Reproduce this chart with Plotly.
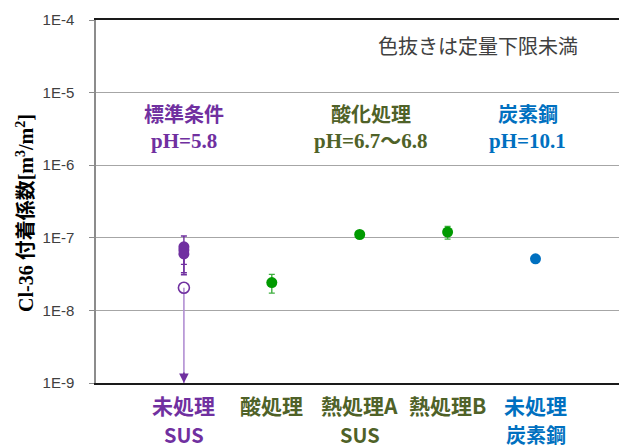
import math
import plotly.graph_objects as go

# Sample categories (x positions 1..5) and label lines
categories = ["未処理 SUS", "酸処理", "熱処理A SUS", "熱処理B", "未処理 炭素鋼"]
label_line1 = ["未処理", "酸処理", "熱処理A", "熱処理B", "未処理"]
label_line2 = ["SUS", "", "SUS", "", "炭素鋼"]

PURPLE = "#7030A0"
GREEN_TXT = "#4F6228"
GREEN = "#009A00"
BLUE = "#0070C0"
label_colors = [PURPLE, GREEN_TXT, GREEN_TXT, GREEN_TXT, BLUE]

# Untreated SUS: quantified results (m3/m2) with error bars
sus_values = [7.5e-8, 6.8e-8, 6.0e-8]
sus_err_plus = [3.1e-8, 1.0e-8, 1.2e-8]
sus_err_minus = [3.2e-8, 3.5e-8, 2.9e-8]

# Untreated SUS: result below the quantification limit (open marker)
sus_blq_value = 2.05e-8
axis_min = 1e-9

# Acid treatment, heat treatment A/B
acid_value = [2.42e-8]
acid_err_plus = [0.71e-8]
acid_err_minus = [0.69e-8]
heatA_value = [1.11e-7]
heatB_value = [1.20e-7]
heatB_err_plus = [0.23e-7]
heatB_err_minus = [0.24e-7]

# Untreated carbon steel
steel_value = [5.14e-8]

# Condition groups shown inside the plot
group_names = ["標準条件", "酸化処理", "炭素鋼"]
group_ph = ["pH=5.8", "pH=6.7～6.8", "pH=10.1"]
group_x = [1.0, 3.125, 4.91]
group_colors = [PURPLE, GREEN_TXT, BLUE]

y_tickvals = [1e-9, 1e-8, 1e-7, 1e-6, 1e-5, 1e-4]
y_ticktext = ["1E-9", "1E-8", "1E-7", "1E-6", "1E-5", "1E-4"]

# Plot-area geometry in pixels (used to place paper-referenced text)
L, T, W, H = 96, 20, 523, 363


def px_x(px):
    return (px - L) / W


def px_y(py):
    return (T + H - py) / H


fig = go.Figure()

# Below-limit SUS point: line down to the axis floor
fig.add_trace(go.Scatter(
    x=[1], y=[sus_blq_value], mode="markers",
    marker=dict(symbol="circle-open", size=11, color=PURPLE, line=dict(width=1.6, color=PURPLE)),
    error_y=dict(type="data", symmetric=False, array=[0],
                 arrayminus=[sus_blq_value - axis_min],
                 color="#B28FD3", thickness=1.6, width=0),
    showlegend=False, cliponaxis=False,
))

fig.add_trace(go.Scatter(
    x=[1] * len(sus_values), y=sus_values, mode="markers",
    marker=dict(size=11, color=PURPLE),
    error_y=dict(type="data", symmetric=False, array=sus_err_plus, arrayminus=sus_err_minus,
                 color=PURPLE, thickness=1.4, width=3),
    showlegend=False,
))

fig.add_trace(go.Scatter(
    x=[2], y=acid_value, mode="markers",
    marker=dict(size=11, color=GREEN),
    error_y=dict(type="data", symmetric=False, array=acid_err_plus, arrayminus=acid_err_minus,
                 color="#3FAF3F", thickness=1.4, width=3),
    showlegend=False,
))

fig.add_trace(go.Scatter(
    x=[3], y=heatA_value, mode="markers",
    marker=dict(size=11, color=GREEN), showlegend=False,
))

fig.add_trace(go.Scatter(
    x=[4], y=heatB_value, mode="markers",
    marker=dict(size=11, color=GREEN),
    error_y=dict(type="data", symmetric=False, array=heatB_err_plus, arrayminus=heatB_err_minus,
                 color="#3FAF3F", thickness=1.4, width=3),
    showlegend=False,
))

fig.add_trace(go.Scatter(
    x=[5], y=steel_value, mode="markers",
    marker=dict(size=11, color=BLUE), showlegend=False,
))

annotations = []

# Arrowhead marking the open-ended lower bound
annotations.append(dict(
    x=1, y=math.log10(axis_min), xref="x", yref="y",
    ax=0, ay=-12, showarrow=True, arrowhead=2, arrowsize=1.2,
    arrowwidth=1.6, arrowcolor=PURPLE, text="",
))

# Category labels below the axis
cat_font = "Noto Sans CJK JP"
for i, (l1, l2, c) in enumerate(zip(label_line1, label_line2, label_colors)):
    annotations.append(dict(
        x=i + 1, y=px_y(405), xref="x", yref="paper", yanchor="middle",
        text=f"<b>{l1}</b>", showarrow=False,
        font=dict(family=cat_font, size=21, color=c),
    ))
    if l2:
        annotations.append(dict(
            x=i + 1, y=px_y(434), xref="x", yref="paper", yanchor="middle",
            text=f"<b>{l2}</b>", showarrow=False,
            font=dict(family=cat_font, size=20, color=c),
        ))

# Condition group headers
for name, ph, gx, c in zip(group_names, group_ph, group_x, group_colors):
    annotations.append(dict(
        x=gx, y=px_y(113), xref="x", yref="paper", xanchor="center", yanchor="middle",
        text=f"<b>{name}</b>", showarrow=False,
        font=dict(family="Noto Sans CJK JP", size=20, color=c),
    ))
    annotations.append(dict(
        x=gx, y=px_y(141), xref="x", yref="paper", xanchor="center", yanchor="middle",
        text=f"<b>{ph}</b>", showarrow=False,
        font=dict(family="Liberation Serif, Noto Sans CJK JP", size=21, color=c),
    ))

# Note in the top-right corner
annotations.append(dict(
    x=px_x(478), y=px_y(45), xref="paper", yref="paper", showarrow=False,
    xanchor="center", yanchor="middle",
    text="色抜きは定量下限未満",
    font=dict(family="Noto Sans CJK JP", size=20, color="#404040"),
))

# Y-axis title
annotations.append(dict(
    x=px_x(25), y=px_y(213), xref="paper", yref="paper",
    textangle=-90, showarrow=False, xanchor="center", yanchor="middle",
    text="<b>Cl-36 付着係数[m<sup>3</sup>/m<sup>2</sup>]</b>",
    font=dict(family="Liberation Serif, Noto Sans CJK JP", size=20, color="black"),
))

fig.update_layout(
    width=619, height=448,
    margin=dict(l=L, r=619 - L - W, t=T, b=448 - T - H),
    paper_bgcolor="white", plot_bgcolor="white",
    annotations=annotations,
    xaxis=dict(range=[0, 5.95], showgrid=False, zeroline=False, showticklabels=False,
               ticks="", showline=True, linecolor="#1a1a1a", linewidth=2, mirror=True),
    yaxis=dict(type="log", range=[-9, -4], tickvals=y_tickvals, ticktext=y_ticktext,
               showgrid=True, gridcolor="#A6A6A6", gridwidth=1.3,
               showline=True, linecolor="#8C8C8C", linewidth=1.5,
               ticks="outside", ticklen=5, tickcolor="#8C8C8C", tickwidth=1.3,
               ticklabelstandoff=12,
               tickfont=dict(family="Liberation Sans", size=15, color="#404040")),
)

fig.write_html("out.html")
